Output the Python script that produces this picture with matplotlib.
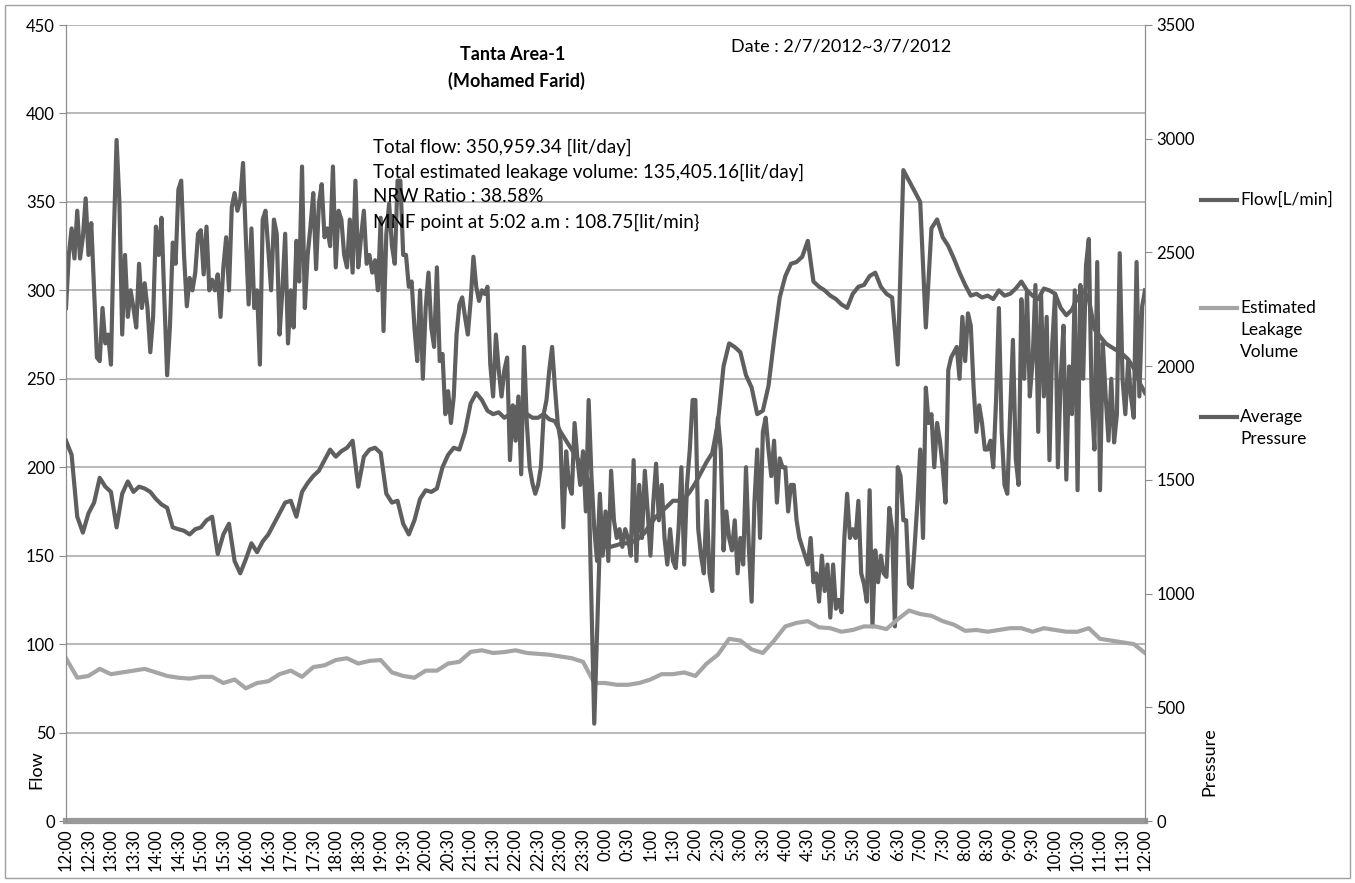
import numpy as np
import matplotlib
matplotlib.use("Agg")
import matplotlib.pyplot as plt
from matplotlib.lines import Line2D
from matplotlib.patches import Rectangle

plt.rcParams['font.family'] = ['Lato', 'DejaVu Sans']

# x axis labels, every half hour from 12:00 to 12:00 next day
tick_labels = ['12:00', '12:30', '13:00', '13:30', '14:00', '14:30', '15:00', '15:30',
               '16:00', '16:30', '17:00', '17:30', '18:00', '18:30', '19:00', '19:30',
               '20:00', '20:30', '21:00', '21:30', '22:00', '22:30', '23:00', '23:30',
               '0:00', '0:30', '1:00', '1:30', '2:00', '2:30', '3:00', '3:30',
               '4:00', '4:30', '5:00', '5:30', '6:00', '6:30', '7:00', '7:30',
               '8:00', '8:30', '9:00', '9:30', '10:00', '10:30', '11:00', '11:30', '12:00']

# Flow [L/min], 8 readings per half hour
flow = [
    290, 320, 335, 318, 345, 318, 330, 352,
    320, 338, 300, 262, 260, 290, 270, 275,
    258, 330, 385, 350, 275, 320, 285, 300,
    290, 279, 315, 290, 304, 290, 265, 285,
    336, 320, 341, 295, 252, 280, 327, 315,
    357, 362, 320, 291, 307, 300, 310, 332,
    334, 309, 336, 300, 306, 300, 309, 285,
    313, 330, 300, 347, 355, 345, 351, 372,
    330, 292, 335, 290, 300, 258, 340, 345,
    323, 300, 340, 332, 275, 300, 332, 270,
    300, 279, 328, 305, 370, 290, 320, 336,
    355, 312, 349, 360, 330, 335, 325, 370,
    313, 345, 340, 320, 313, 340, 310, 362,
    313, 330, 345, 315, 320, 310, 317, 300,
    341, 277, 332, 349, 325, 315, 362, 362,
    320, 320, 302, 305, 279, 260, 300, 250,
    290, 310, 279, 268, 313, 260, 264, 230,
    243, 225, 240, 275, 292, 296, 285, 275,
    294, 319, 302, 294, 300, 298, 302, 258,
    240, 275, 255, 240, 255, 262, 204, 235,
    215, 240, 196, 268, 225, 200, 191, 185,
    190, 200, 230, 238, 255, 268, 245, 225,
    215, 166, 209, 190, 185, 225, 205, 190,
    209, 175, 238, 195, 165, 147, 185, 150,
    175, 147, 198, 170, 160, 165, 155, 165,
    160, 150, 204, 147, 190, 160, 198, 175,
    150, 180, 202, 170, 190, 160, 145, 165,
    147, 143, 165, 200, 145, 190, 210, 238,
    238, 165, 150, 140, 181, 140, 130, 209,
    228, 210, 153, 175, 160, 153, 170, 140,
    160, 145, 200, 155, 124, 180, 210, 160,
    220, 228, 210, 195, 215, 180, 205, 200,
    200, 175, 190, 190, 170, 160, 155, 150,
    145, 160, 135, 140, 124, 150, 130, 145,
    115, 145, 120, 125, 118, 160, 185, 160,
    165, 160, 181, 140, 134, 124, 187, 110,
    153, 135, 150, 140, 138, 177, 165, 110,
    200, 195, 170, 170, 134, 132, 155, 180,
    210, 160, 245, 225, 230, 200, 225, 215,
    200, 180, 255, 262, 265, 268, 250, 285,
    260, 287, 280, 245, 220, 235, 225, 210,
    210, 215, 200, 238, 290, 220, 190, 185,
    230, 272, 205, 190, 295, 250, 300, 240,
    260, 303, 220, 298, 240, 285, 204, 270,
    298, 200, 250, 280, 193, 257, 230, 300,
    187, 303, 250, 314, 329, 240, 210, 316,
    187, 270, 240, 215, 250, 214, 230, 321,
    250, 230, 260, 240, 228, 316, 240, 291,
    300]

# Estimated leakage volume [L/min], 2 readings per half hour
leakage = [
    92, 81, 82, 86, 83, 84, 85, 86, 84, 82, 81, 80.5, 81.5, 81.5, 78, 80,
    75, 78, 79, 83, 85, 81.5, 87, 88, 91, 92, 89, 90.5, 91, 84, 82, 81,
    85, 85, 89, 90, 95.6, 96.5, 95, 95.5, 96.5, 95, 94.5, 94, 93, 92, 90, 78,
    78, 77, 77, 78, 80, 83, 83, 84, 82, 89, 94, 103, 102, 97, 95, 102,
    110, 112, 113, 109.5, 109, 107, 108, 110, 110, 108.5, 114, 119, 117, 116, 113, 111,
    107.5, 108, 107, 108, 109, 109, 107, 109, 108, 107, 107, 109, 103, 102, 101, 100,
    95]

# Average pressure, 4 readings per half hour
pressure = [
    1672, 1610, 1338, 1268, 1353, 1400, 1509, 1470, 1447, 1291, 1439, 1493, 1447, 1470, 1462, 1447,
    1416, 1392, 1377, 1291, 1283, 1276, 1260, 1283, 1291, 1322, 1338, 1174, 1260, 1307, 1143, 1089,
    1151, 1221, 1182, 1229, 1260, 1307, 1353, 1400, 1408, 1338, 1447, 1486, 1517, 1540, 1587, 1633,
    1602, 1626, 1641, 1672, 1470, 1602, 1633, 1641, 1618, 1439, 1400, 1408, 1307, 1260, 1322, 1416,
    1454, 1447, 1462, 1556, 1610, 1641, 1633, 1711, 1836, 1882, 1851, 1804, 1789, 1797, 1773, 1789,
    1820, 1804, 1789, 1773, 1773, 1789, 1766, 1758, 1711, 1672, 1633, 1594, 1556, 1493, 428, 1229,
    1206, 1206, 1213, 1221, 1221, 1229, 1244, 1268, 1307, 1338, 1361, 1384, 1408, 1408, 1416, 1447,
    1486, 1532, 1579, 1618, 1750, 1999, 2100, 2084, 2061, 1960, 1906, 1789, 1804, 1913, 2116, 2302,
    2396, 2450, 2458, 2481, 2551, 2372, 2349, 2333, 2310, 2295, 2271, 2256, 2318, 2349, 2357, 2396,
    2411, 2349, 2318, 2302, 2007, 2862, 2816, 2769, 2722, 2170, 2606, 2645, 2567, 2528, 2473, 2411,
    2357, 2310, 2318, 2302, 2310, 2295, 2333, 2310, 2318, 2341, 2372, 2333, 2310, 2295, 2341, 2333,
    2318, 2256, 2224, 2248, 2302, 2333, 2295, 2162, 2131, 2100, 2084, 2069, 2053, 2030, 1991, 1929,
    1882]

dark = '#5f5f5f'
light = '#a5a5a5'
grid_c = '#a6a6a6'
axis_c = '#8c8c8c'
LW = 3.0

W, H = 1355, 883
fig = plt.figure(figsize=(W / 100, H / 100), dpi=100)
fig.patch.set_facecolor('white')
fig.add_artist(Rectangle((5 / W, 5 / H), 1 - 10 / W, 1 - 10 / H, transform=fig.transFigure,
                         fill=False, edgecolor='#a0a0a0', linewidth=1.0))

ax = fig.add_axes([66 / W, 1 - 821 / H, (1145 - 66) / W, (821 - 25) / H])
ax2 = ax.twinx()

n = len(tick_labels) - 1
x_flow = np.linspace(0, n, len(flow))
x_leak = np.linspace(0, n, len(leakage))
x_pres = np.linspace(0, n, len(pressure))

ax.plot(x_flow, flow, color=dark, lw=LW, zorder=3)
ax.plot(x_leak, leakage, color=light, lw=LW, zorder=3)
ax2.plot(x_pres, pressure, color=dark, lw=LW, zorder=3)

ax.set_xlim(0, n)
ax.set_ylim(0, 450)
ax2.set_ylim(0, 3500)
ax.set_yticks(range(0, 451, 50))
ax2.set_yticks(range(0, 3501, 500))
ax.set_xticks(range(n + 1))
ax.set_xticklabels(tick_labels, rotation=90, fontsize=12)
ax.grid(axis='y', color=grid_c, lw=1.1)
ax.set_axisbelow(True)

for a in (ax, ax2):
    a.spines['top'].set_visible(False)
    a.spines['left'].set_color(axis_c)
    a.spines['right'].set_color(axis_c)
    a.spines['bottom'].set_visible(False)
ax.axhline(0, color='#999999', lw=4.5, zorder=2, clip_on=False)

ax.tick_params(axis='y', labelsize=12, color=axis_c, length=5, pad=3)
ax.tick_params(axis='x', length=0, pad=5)
ax2.tick_params(axis='y', labelsize=12, color=axis_c, length=5, pad=3)

ax.set_ylabel('Flow', fontsize=13)
ax2.set_ylabel('Pressure', fontsize=13)
ax.yaxis.set_label_coords(-0.02, 0.065)
ax2.yaxis.set_label_coords(1.052, 0.075)

def ftext(x, y, s, **kw):
    fig.text(x / W, 1 - y / H, s, **kw)

ftext(513, 55, 'Tanta Area-1', ha='center', va='center', fontsize=13, fontweight='bold')
ftext(516, 81, '(Mohamed Farid)', ha='center', va='center', fontsize=13, fontweight='bold')
ftext(731, 47, 'Date : 2/7/2012~3/7/2012', ha='left', va='center', fontsize=13)
notes = ['Total flow: 350,959.34 [lit/day]',
         'Total estimated leakage volume: 135,405.16[lit/day]',
         'NRW Ratio : 38.58%',
         'MNF point at 5:02 a.m : 108.75[lit/min}']
for i, s in enumerate(notes):
    ftext(373, 147 + 25 * i, s, ha='left', va='center', fontsize=13.5)

# legend
legend_items = [('Flow[L/min]', dark, 200), ('Estimated\nLeakage\nVolume', light, 308),
                ('Average\nPressure', dark, 417)]
for label, col, y in legend_items:
    fig.add_artist(Line2D([1201 / W, 1237 / W], [1 - y / H, 1 - y / H], color=col, lw=LW,
                          transform=fig.transFigure))
    fig.text(1240 / W, 1 - (y - 8) / H, label, ha='left', va='top', fontsize=12.5,
             linespacing=1.45)

fig.savefig('out.png', dpi=100, facecolor='white')
